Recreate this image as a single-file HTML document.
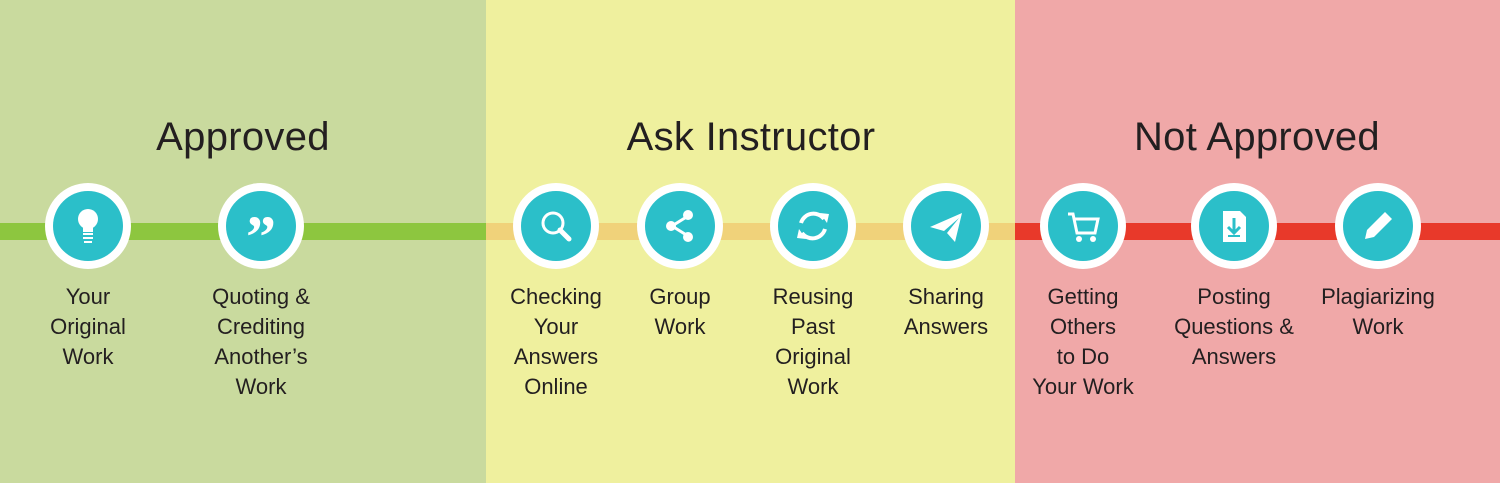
<!DOCTYPE html>
<html><head><meta charset="utf-8">
<style>
html,body{margin:0;padding:0}
body{width:1500px;height:483px;position:relative;overflow:hidden;font-family:"Liberation Sans",sans-serif}
.zone{position:absolute;top:0;height:483px}
.title{position:absolute;top:115px;font-size:40px;color:#231f20;text-align:center;width:500px;letter-spacing:0.3px}
.bar{position:absolute;top:223px;height:17px}
.lbl{position:absolute;top:282px;width:160px;text-align:center;font-size:22px;line-height:30px;color:#231f20}
svg.ic{position:absolute;top:183px;overflow:visible}
</style></head><body>
<div class="zone" style="left:0;width:486px;background:#c9da9e"></div>
<div class="zone" style="left:486px;width:529px;background:#eff09e"></div>
<div class="zone" style="left:1015px;width:485px;background:#f0a8a8"></div>
<div class="bar" style="left:0;width:486px;background:#8dc63f"></div>
<div class="bar" style="left:486px;width:529px;background:#f0d27a"></div>
<div class="bar" style="left:1015px;width:485px;background:#e8392a"></div>
<div class="title" style="left:-7px">Approved</div>
<div class="title" style="left:501px">Ask Instructor</div>
<div class="title" style="left:1007px">Not Approved</div>

<svg class="ic" style="left:45px" width="86" height="86"><circle cx="43" cy="43" r="43" fill="#fff"/><circle cx="43" cy="43" r="35" fill="#2bbfc9"/><circle cx="43" cy="36" r="10" fill="#fff"/><rect x="38" y="42" width="10" height="7" fill="#fff"/><rect x="38" y="50" width="10" height="2" fill="#fff"/><rect x="38" y="54" width="10" height="2" fill="#fff"/><rect x="39" y="58" width="8" height="2" fill="#fff"/></svg>
<svg class="ic" style="left:218px" width="86" height="86"><circle cx="43" cy="43" r="43" fill="#fff"/><circle cx="43" cy="43" r="35" fill="#2bbfc9"/><text x="43" y="74" text-anchor="middle" font-size="60" font-weight="bold" fill="#fff" font-family="Liberation Serif,serif">”</text></svg>
<svg class="ic" style="left:513px" width="86" height="86"><circle cx="43" cy="43" r="43" fill="#fff"/><circle cx="43" cy="43" r="35" fill="#2bbfc9"/><circle cx="40" cy="40" r="10" fill="none" stroke="#fff" stroke-width="3"/><line x1="47" y1="47" x2="56" y2="56" stroke="#fff" stroke-width="5" stroke-linecap="round"/></svg>
<svg class="ic" style="left:637px" width="86" height="86"><circle cx="43" cy="43" r="43" fill="#fff"/><circle cx="43" cy="43" r="35" fill="#2bbfc9"/><line x1="51" y1="33" x2="35" y2="43" stroke="#fff" stroke-width="3"/><line x1="51" y1="53" x2="35" y2="43" stroke="#fff" stroke-width="3"/><circle cx="51" cy="32" r="5" fill="#fff"/><circle cx="34" cy="43" r="5" fill="#fff"/><circle cx="51" cy="54" r="5" fill="#fff"/></svg>
<svg class="ic" style="left:770px" width="86" height="86"><circle cx="43" cy="43" r="43" fill="#fff"/><circle cx="43" cy="43" r="35" fill="#2bbfc9"/><path d="M31 40 A13 13 0 0 1 54 36" fill="none" stroke="#fff" stroke-width="4"/><path d="M55 46 A13 13 0 0 1 32 50" fill="none" stroke="#fff" stroke-width="4"/><polygon points="50,30 59,31 57,40" fill="#fff"/><polygon points="36,56 27,55 29,46" fill="#fff"/></svg>
<svg class="ic" style="left:903px" width="86" height="86"><circle cx="43" cy="43" r="43" fill="#fff"/><circle cx="43" cy="43" r="35" fill="#2bbfc9"/><polygon points="27,44 59,30 52,59 44,50 56,35 41,48" fill="#fff"/></svg>
<svg class="ic" style="left:1040px" width="86" height="86"><circle cx="43" cy="43" r="43" fill="#fff"/><circle cx="43" cy="43" r="35" fill="#2bbfc9"/><path d="M28 31 H33 L37 50 H55 L58 36 H34" fill="none" stroke="#fff" stroke-width="3"/><circle cx="39" cy="56" r="3" fill="#fff"/><circle cx="53" cy="56" r="3" fill="#fff"/></svg>
<svg class="ic" style="left:1191px" width="86" height="86"><circle cx="43" cy="43" r="43" fill="#fff"/><circle cx="43" cy="43" r="35" fill="#2bbfc9"/><polygon points="32,28 49,28 55,34 55,59 32,59" fill="#fff"/><line x1="43" y1="35" x2="43" y2="49" stroke="#2bbfc9" stroke-width="3"/><polyline points="37,44 43,50 49,44" fill="none" stroke="#2bbfc9" stroke-width="3"/><line x1="37" y1="53" x2="49" y2="53" stroke="#2bbfc9" stroke-width="2"/></svg>
<svg class="ic" style="left:1335px" width="86" height="86"><circle cx="43" cy="43" r="43" fill="#fff"/><circle cx="43" cy="43" r="35" fill="#2bbfc9"/><polygon points="30,56 32,47 50,29 57,36 39,54" fill="#fff"/></svg>

<div class="lbl" style="left:8px">Your<br>Original<br>Work</div>
<div class="lbl" style="left:181px">Quoting &amp;<br>Crediting<br>Another’s<br>Work</div>
<div class="lbl" style="left:476px">Checking<br>Your<br>Answers<br>Online</div>
<div class="lbl" style="left:600px">Group<br>Work</div>
<div class="lbl" style="left:733px">Reusing<br>Past<br>Original<br>Work</div>
<div class="lbl" style="left:866px">Sharing<br>Answers</div>
<div class="lbl" style="left:1003px">Getting<br>Others<br>to Do<br>Your Work</div>
<div class="lbl" style="left:1154px">Posting<br>Questions &amp;<br>Answers</div>
<div class="lbl" style="left:1298px">Plagiarizing<br>Work</div>
</body></html>
